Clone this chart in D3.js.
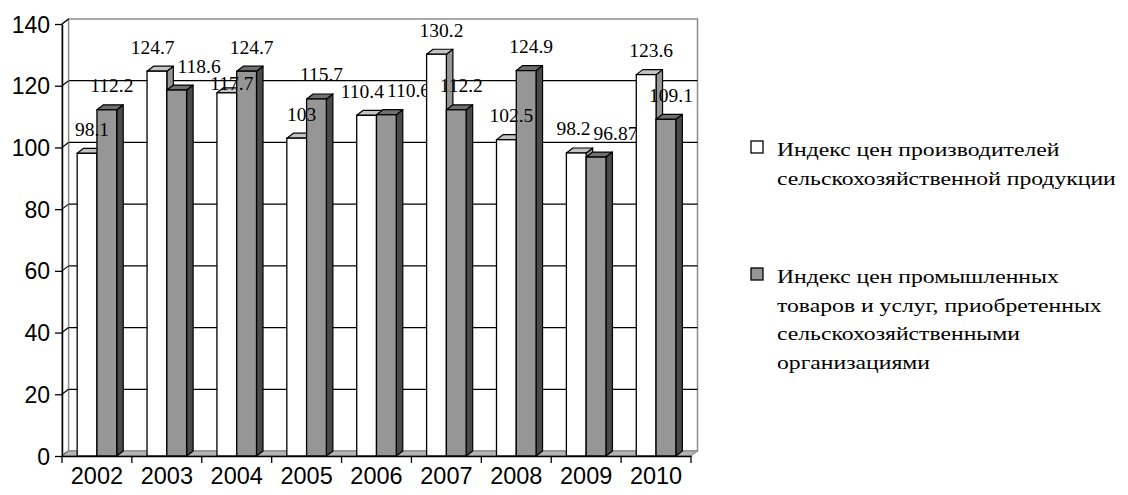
<!DOCTYPE html>
<html>
<head>
<meta charset="utf-8">
<script src="https://cdn.jsdelivr.net/npm/d3@7"></script>
<style>
  body { margin: 0; background: #fff; }
  svg { display: block; }
</style>
</head>
<body>
<svg id="chart" width="1128" height="495"></svg>
<script>
// Годы и индексы цен (в % к предыдущему году)
const years = ["2002", "2003", "2004", "2005", "2006", "2007", "2008", "2009", "2010"];
const producerIndex = [98.1, 124.7, 117.7, 103, 110.4, 130.2, 102.5, 98.2, 123.6];
const inputIndex = [112.2, 118.6, 124.7, 115.7, 110.6, 112.2, 124.9, 96.87, 109.1];
const yTicks = [0, 20, 40, 60, 80, 100, 120, 140];
const legendProducer = ["Индекс цен производителей", "сельскохозяйственной продукции"];
const legendInput = ["Индекс цен промышленных", "товаров и услуг, приобретенных", "сельскохозяйственными", "организациями"];

const svg = d3.select("#chart");
const SERIF = "'Liberation Serif', 'Times New Roman', 'DejaVu Serif', serif";
const SANS = "'Liberation Sans', Arial, sans-serif";

// 3D depth offset of walls and boxes
const DX = 6.5, DY = -5;
const left = 62, right = 691;

const x0 = d3.scaleBand().domain(years).range([left, right]);
const groupW = x0.bandwidth() * 0.566;
const x1 = d3.scaleBand().domain([0, 1]).range([0, groupW]);
const y = d3.scaleLinear().domain([0, 140]).range([456, 24]);
const y0 = y(0), yTop = y(140);

const series = [
  { values: producerIndex, front: "#ffffff", top: "#c4c4c4", side: "#969696" },
  { values: inputIndex,    front: "#969696", top: "#707070", side: "#4a4a4a" }
];

// back wall
svg.append("rect")
  .attr("x", left + DX).attr("y", yTop + DY)
  .attr("width", right - left).attr("height", y0 - yTop)
  .attr("fill", "#fff").attr("stroke", "#8c8c8c").attr("stroke-width", 1.5);

// gridlines on the back wall
svg.append("g").selectAll("line")
  .data(yTicks.filter(t => t > 0 && t < 140))
  .join("line")
  .attr("x1", left + DX).attr("x2", right + DX)
  .attr("y1", d => y(d) + DY).attr("y2", d => y(d) + DY)
  .attr("stroke", "#000").attr("stroke-width", 1.3);

// left side wall
svg.append("polygon")
  .attr("points", [[left, y0], [left, yTop], [left + DX, yTop + DY], [left + DX, y0 + DY]].join(" "))
  .attr("fill", "#fff").attr("stroke", "#8c8c8c").attr("stroke-width", 1.3);
svg.append("g").selectAll("line")
  .data(yTicks)
  .join("line")
  .attr("x1", left).attr("x2", left + DX)
  .attr("y1", d => y(d)).attr("y2", d => y(d) + DY)
  .attr("stroke", "#000").attr("stroke-width", 1.2);

// floor
svg.append("polygon")
  .attr("points", [[left, y0], [right, y0], [right + DX, y0 + DY], [left + DX, y0 + DY]].join(" "))
  .attr("fill", "#b4b4b4").attr("stroke", "#808080").attr("stroke-width", 1);

// a single 3D column: side, top, then front face
function column(g, x, w, v, s) {
  const yt = y(v);
  g.append("polygon")
    .attr("points", [[x + w, yt], [x + w + DX, yt + DY], [x + w + DX, y0 + DY], [x + w, y0]].join(" "))
    .attr("fill", s.side).attr("stroke", "#000").attr("stroke-width", 1.2).attr("stroke-linejoin", "round");
  g.append("polygon")
    .attr("points", [[x, yt], [x + w, yt], [x + w + DX, yt + DY], [x + DX, yt + DY]].join(" "))
    .attr("fill", s.top).attr("stroke", "#000").attr("stroke-width", 1.2).attr("stroke-linejoin", "round");
  g.append("rect")
    .attr("x", x).attr("y", yt).attr("width", w).attr("height", y0 - yt)
    .attr("fill", s.front).attr("stroke", "#000").attr("stroke-width", 1.3);
}

const labelLift = 17.5, labelShift = 5, capH = 14;
const placed = [];   // label boxes already drawn in earlier categories

years.forEach((yr, i) => {
  const g = svg.append("g").attr("class", "cat");
  const gx = x0(yr) + (x0.bandwidth() - groupW) / 2;
  series.forEach((s, k) => column(g, gx + x1(k), x1.bandwidth(), s.values[i], s));

  const labels = series.map((s, k) => {
    const v = s.values[i];
    const t = g.append("text")
      .attr("text-anchor", "middle")
      .attr("font-family", SERIF)
      .attr("font-size", 19.5)
      .attr("fill", "#000")
      .text(String(v));
    return {
      t, cx: gx + x1(k) + x1.bandwidth() / 2 + labelShift,
      by: y(v) - labelLift, w: t.node().getComputedTextLength()
    };
  });

  // labels of one year are pushed apart sideways when they collide
  const [a, b] = labels;
  if (Math.abs(a.by - b.by) < 20) {
    const overlap = (a.w + b.w) / 2 + 3 - (b.cx - a.cx);
    if (overlap > 0) { a.cx -= overlap * 0.35; b.cx += overlap * 0.65; }
  }

  // a label that runs into one of the previous year moves down below it
  labels.forEach(l => {
    placed.forEach(p => {
      const xHit = l.cx - l.w / 2 < p.x2 && l.cx + l.w / 2 > p.x1;
      const yHit = l.by - capH < p.y2 && l.by + 1 > p.y1;
      if (xHit && yHit) l.by = p.y2 + 2 + capH;
    });
  });
  labels.forEach(l => {
    l.t.attr("x", l.cx).attr("y", l.by);
    placed.push({ x1: l.cx - l.w / 2, x2: l.cx + l.w / 2, y1: l.by - capH, y2: l.by + 1 });
  });
});

// value axis
const yAxis = svg.append("g")
  .attr("transform", `translate(${left},0)`)
  .call(d3.axisLeft(y).tickValues(yTicks).tickSize(7).tickSizeOuter(0).tickPadding(5));
yAxis.select(".domain").attr("stroke", "#000").attr("stroke-width", 1.5);
yAxis.selectAll(".tick line").attr("stroke", "#000").attr("stroke-width", 1.3);
yAxis.selectAll("text")
  .attr("font-family", SANS).attr("font-size", 23).attr("fill", "#000").attr("dy", "0.35em");

// category axis
const xAxis = svg.append("g")
  .attr("transform", `translate(0,${y0})`)
  .call(d3.axisBottom(x0).tickSize(0).tickSizeOuter(0).tickPadding(11));
xAxis.select(".domain").attr("stroke", "#000").attr("stroke-width", 1.5);
xAxis.selectAll("text")
  .attr("font-family", SANS).attr("font-size", 23.5).attr("fill", "#000").attr("dy", "0.71em");
svg.append("g").selectAll("line")
  .data(years.map(d => x0(d)).concat([right]))
  .join("line")
  .attr("x1", d => d).attr("x2", d => d)
  .attr("y1", y0).attr("y2", y0 + 7)
  .attr("stroke", "#000").attr("stroke-width", 1.3);

// legend (text set wide, as in the printed report)
const legend = [
  { lines: legendProducer, fill: series[0].front, top: 141 },
  { lines: legendInput, fill: series[1].front, top: 268 }
];
const lg = svg.append("g");
legend.forEach(item => {
  lg.append("rect")
    .attr("x", 751).attr("y", item.top).attr("width", 12).attr("height", 12)
    .attr("fill", item.fill).attr("stroke", "#000").attr("stroke-width", 1.3);
  item.lines.forEach((line, j) => {
    lg.append("text")
      .attr("transform", `translate(777,${item.top + 15 + j * 28.5}) scale(1.28,1)`)
      .attr("font-family", SERIF)
      .attr("font-size", 18.5)
      .attr("fill", "#000")
      .text(line);
  });
});
</script>
</body>
</html>
